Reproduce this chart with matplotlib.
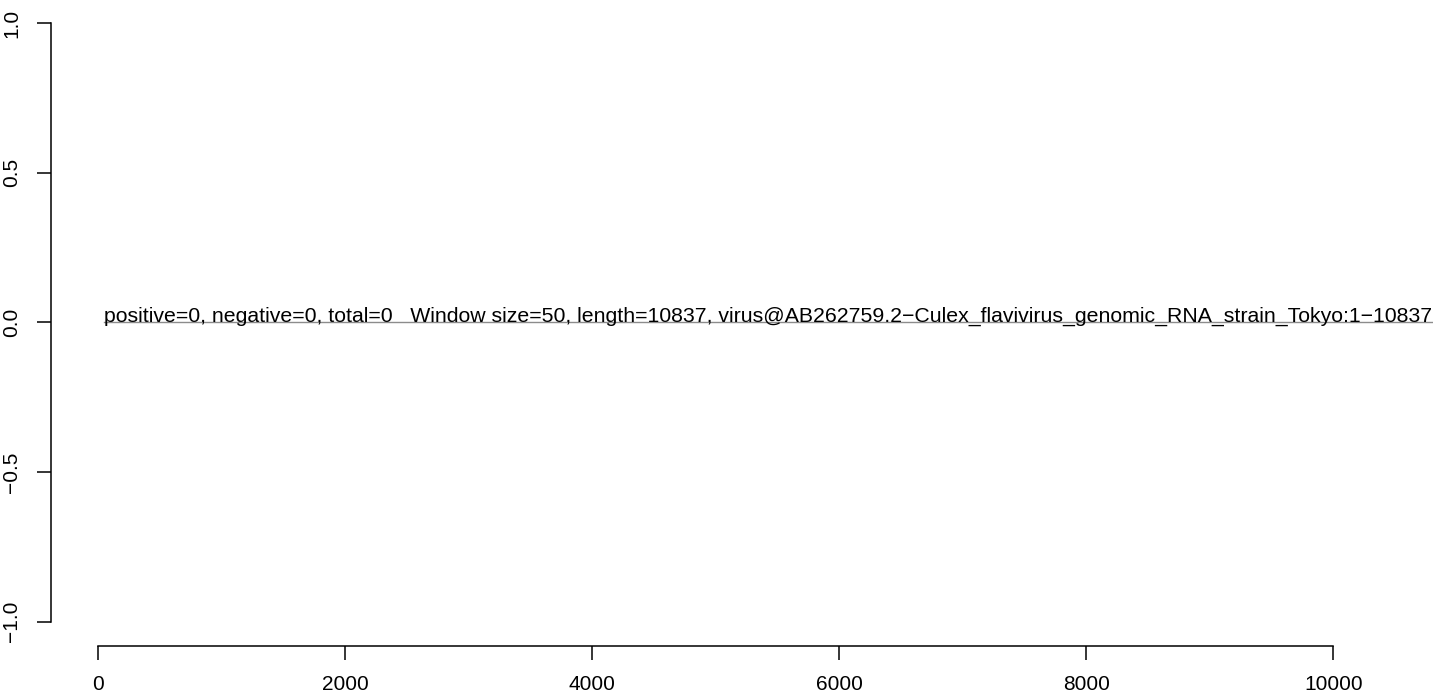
import matplotlib
matplotlib.use("Agg")
import matplotlib.pyplot as plt

plt.rcParams['font.family'] = ['Liberation Sans', 'DejaVu Sans']

x_ticks = [0, 2000, 4000, 6000, 8000, 10000]
x_tick_labels = ["0", "2000", "4000", "6000", "8000", "10000"]
y_ticks = [-1.0, -0.5, 0.0, 0.5, 1.0]
y_tick_labels = ["\u22121.0", "\u22120.5", "0.0", "0.5", "1.0"]
window_size = 50
seq_length = 10837
line_x = [window_size, seq_length]
line_y = [0, 0]
label_text = ("positive=0, negative=0, total=0   Window size=50, length=10837, "
              "virus@AB262759.2\u2212Culex_flavivirus_genomic_RNA_strain_Tokyo:1\u221210837")

dpi = 100
W, H = 1433, 695
left_px, right_px, top_px, bottom_px = 51, 1490, -1, 645.5
fig = plt.figure(figsize=(W / dpi, H / dpi), dpi=dpi)
ax = fig.add_axes([left_px / W, 1 - bottom_px / H, (right_px - left_px) / W, (bottom_px - top_px) / H])

span = seq_length - window_size
ax.set_xlim(window_size - 0.04 * span, seq_length + 0.04 * span)
ax.set_ylim(-1.08, 1.08)

ax.plot(line_x, line_y, color="#8c8c8c", lw=1.0)
ax.text(window_size, 0.003, label_text, ha="left", va="baseline", fontsize=15.3, color="black")

for s in ["top", "right"]:
    ax.spines[s].set_visible(False)
ax.spines["left"].set_bounds(-1, 1)
ax.spines["bottom"].set_bounds(0, 10000)
for s in ["left", "bottom"]:
    ax.spines[s].set_linewidth(1.1)

ax.set_xticks(x_ticks)
ax.set_xticklabels(x_tick_labels)
ax.set_yticks(y_ticks)
ax.set_yticklabels(y_tick_labels, rotation=90, va="center")
ax.tick_params(axis="both", length=10, width=1.1, labelsize=15)
ax.tick_params(axis="x", pad=11.5)
ax.tick_params(axis="y", pad=11.5)

fig.savefig("out.png", dpi=dpi)
